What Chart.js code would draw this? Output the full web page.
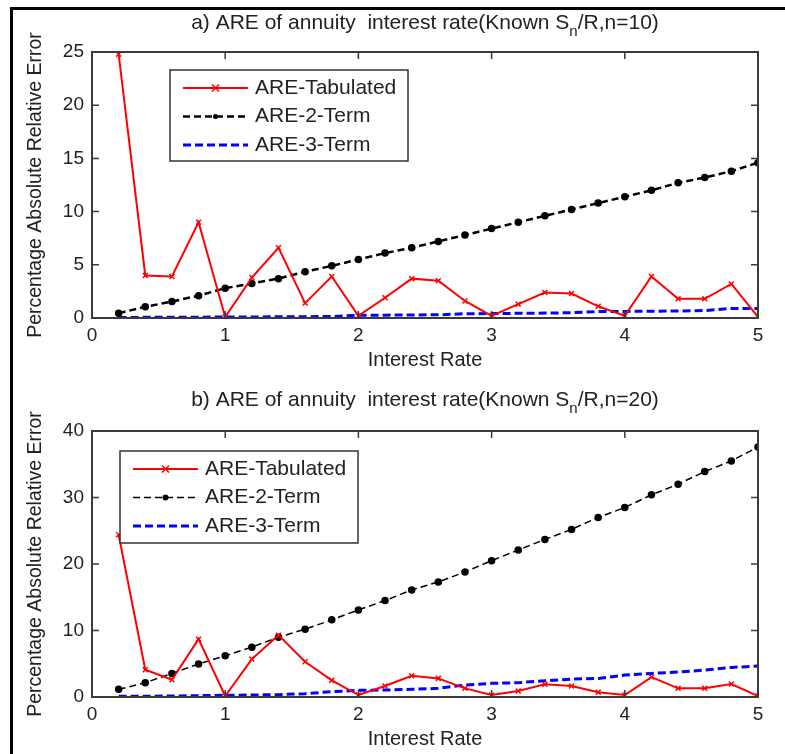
<!DOCTYPE html>
<html>
<head>
<meta charset="utf-8">
<script src="https://cdn.jsdelivr.net/npm/chart.js@4.4.0/dist/chart.umd.min.js"></script>
<style>
  body { margin: 0; background: #fff; width: 785px; height: 754px; overflow: hidden; position: relative; }
  .frame { position: absolute; left: 10px; top: 7px; right: 0; bottom: 0; border-top: 3px solid #000; border-left: 3px solid #000; }
  canvas { position: absolute; left: 0; }
  #chartA { top: 0; }
  #chartB { top: 377px; }
</style>
</head>
<body>
<div class="frame"></div>
<canvas id="chartA" width="785" height="377"></canvas>
<canvas id="chartB" width="785" height="377"></canvas>
<script>
// interest rates (x)
const rates = [0.2, 0.4, 0.6, 0.8, 1.0, 1.2, 1.4, 1.6, 1.8, 2.0, 2.2, 2.4, 2.6,
               2.8, 3.0, 3.2, 3.4, 3.6, 3.8, 4.0, 4.2, 4.4, 4.6, 4.8, 5.0];

// a) n = 10
const tabulatedA = [24.8, 4.0, 3.9, 9.0, 0.1, 3.8, 6.6, 1.4, 3.9, 0.2, 1.9, 3.7, 3.5,
                    1.6, 0.2, 1.3, 2.4, 2.3, 1.1, 0.2, 3.9, 1.8, 1.8, 3.2, 0.1];
const twoTermA = [0.45, 1.05, 1.55, 2.1, 2.8, 3.25, 3.7, 4.35, 4.9, 5.5, 6.1, 6.6, 7.2,
                  7.8, 8.4, 9.0, 9.6, 10.2, 10.8, 11.4, 12.0, 12.7, 13.2, 13.8, 14.6];
const threeTermA = [0.05, 0.06, 0.07, 0.08, 0.09, 0.1, 0.11, 0.12, 0.14, 0.25, 0.27, 0.29, 0.3,
                    0.4, 0.42, 0.44, 0.46, 0.5, 0.6, 0.62, 0.64, 0.66, 0.7, 0.9, 0.9];

// b) n = 20
const tabulatedB = [24.4, 4.1, 2.6, 8.7, 0.15, 5.7, 9.3, 5.3, 2.5, 0.3, 1.65, 3.2, 2.8,
                    1.3, 0.3, 0.9, 1.9, 1.65, 0.7, 0.3, 3.0, 1.3, 1.3, 1.95, 0.15];
const twoTermB = [1.15, 2.15, 3.55, 4.96, 6.2, 7.5, 9.0, 10.2, 11.6, 13.1, 14.5, 16.1, 17.3,
                  18.8, 20.5, 22.1, 23.7, 25.2, 27.0, 28.5, 30.4, 32.0, 33.9, 35.5, 37.6];
const threeTermB = [0.1, 0.1, 0.15, 0.2, 0.25, 0.3, 0.35, 0.5, 0.8, 1.0, 1.05, 1.15, 1.3,
                    1.8, 2.05, 2.15, 2.45, 2.7, 2.8, 3.3, 3.55, 3.75, 4.05, 4.45, 4.65];

const xTicks = [0, 1, 2, 3, 4, 5];
const yTicksA = [0, 5, 10, 15, 20, 25];
const yTicksB = [0, 10, 20, 30, 40];

const seriesNames = ["ARE-Tabulated", "ARE-2-Term", "ARE-3-Term"];
const titleA = ["a) ARE of annuity  interest rate(Known S", "n", "/R,n=10)"];
const titleB = ["b) ARE of annuity  interest rate(Known S", "n", "/R,n=20)"];
const xTitle = "Interest Rate";
const yTitle = "Percentage Absolute Relative Error";

const FONT = '"Liberation Sans", Arial, sans-serif';
const TEXT = "#222";

function pts(ys) {
  return rates.map((x, i) => ({ x: x, y: ys[i] }));
}

function marker(ctx, style, x, y, r, color) {
  ctx.save();
  ctx.setLineDash([]);
  ctx.strokeStyle = color;
  ctx.fillStyle = color;
  if (style === "crossRot") {
    ctx.lineWidth = 1.5;
    ctx.beginPath();
    ctx.moveTo(x - r, y - r); ctx.lineTo(x + r, y + r);
    ctx.moveTo(x - r, y + r); ctx.lineTo(x + r, y - r);
    ctx.stroke();
  } else {
    ctx.beginPath();
    ctx.arc(x, y, r, 0, Math.PI * 2);
    ctx.fill();
  }
  ctx.restore();
}

// MATLAB-like box, inward ticks, title and in-axes legend
const matlabLook = {
  id: "matlabLook",
  afterDatasetsDraw(chart, args, opts) {
    const ctx = chart.ctx;
    const a = chart.chartArea;
    const xs = chart.scales.x, ys = chart.scales.y;
    ctx.save();
    ctx.strokeStyle = "#3a3a3a";
    ctx.lineWidth = 2;
    ctx.strokeRect(a.left, a.top, a.right - a.left, a.bottom - a.top);
    ctx.lineWidth = 1.5;
    ctx.beginPath();
    xs.ticks.forEach(t => {
      const px = xs.getPixelForValue(t.value);
      ctx.moveTo(px, a.bottom); ctx.lineTo(px, a.bottom - 7);
      ctx.moveTo(px, a.top); ctx.lineTo(px, a.top + 7);
    });
    ys.ticks.forEach(t => {
      const py = ys.getPixelForValue(t.value);
      ctx.moveTo(a.left, py); ctx.lineTo(a.left + 7, py);
      ctx.moveTo(a.right, py); ctx.lineTo(a.right - 7, py);
    });
    ctx.stroke();

    // title with subscript
    const parts = opts.title;
    const big = "21px " + FONT, small = "15px " + FONT;
    ctx.font = big;
    const w0 = ctx.measureText(parts[0]).width;
    const w2 = ctx.measureText(parts[2]).width;
    ctx.font = small;
    const w1 = ctx.measureText(parts[1]).width;
    let tx = (a.left + a.right) / 2 - (w0 + w1 + w2) / 2;
    const ty = a.top - opts.titleGap;
    ctx.fillStyle = TEXT;
    ctx.textBaseline = "middle";
    ctx.textAlign = "left";
    ctx.font = big;
    ctx.fillText(parts[0], tx, ty); tx += w0;
    ctx.font = small;
    ctx.fillText(parts[1], tx, ty + 9); tx += w1;
    ctx.font = big;
    ctx.fillText(parts[2], tx, ty);

    // legend
    const L = opts.legend;
    ctx.fillStyle = "#fff";
    ctx.fillRect(L.x, L.y, L.w, L.h);
    ctx.strokeStyle = "#333";
    ctx.lineWidth = 1.5;
    ctx.strokeRect(L.x, L.y, L.w, L.h);
    chart.data.datasets.forEach((ds, i) => {
      const y = L.y + 18 + i * 28.5;
      const x1 = L.x + 13, x2 = L.x + 78;
      ctx.save();
      ctx.strokeStyle = ds.borderColor;
      ctx.lineWidth = ds.borderWidth;
      ctx.setLineDash(ds.borderDash || []);
      ctx.beginPath();
      ctx.moveTo(x1, y); ctx.lineTo(x2, y);
      ctx.stroke();
      ctx.restore();
      if (ds.pointRadius > 0) marker(ctx, ds.pointStyle, (x1 + x2) / 2, y, ds.pointRadius, ds.borderColor);
      ctx.fillStyle = TEXT;
      ctx.font = "21px " + FONT;
      ctx.textBaseline = "middle";
      ctx.fillText(ds.label, L.x + 85, y);
    });
    ctx.restore();
  }
};

function makeChart(id, tab, two, three, yMax, yTicks, title, legend, pad, widths, dot) {
  return new Chart(document.getElementById(id), {
    type: "line",
    data: {
      datasets: [
        { label: seriesNames[0], data: pts(tab), borderColor: "#ff0000", backgroundColor: "#ff0000",
          borderWidth: widths[0], pointStyle: "crossRot", pointRadius: 3.5, pointBorderWidth: 1.5 },
        { label: seriesNames[1], data: pts(two), borderColor: "#000000", backgroundColor: "#000000",
          borderWidth: widths[1], borderDash: [7, 4], pointStyle: "circle", pointRadius: dot },
        { label: seriesNames[2], data: pts(three), borderColor: "#0000ff", backgroundColor: "#0000ff",
          borderWidth: widths[2], borderDash: [8, 4], pointRadius: 0 }
      ]
    },
    options: {
      responsive: false,
      animation: false,
      layout: { padding: pad },
      elements: { line: { tension: 0 } },
      scales: {
        x: {
          type: "linear", min: 0, max: 5,
          afterBuildTicks: s => { s.ticks = xTicks.map(v => ({ value: v })); },
          afterFit: s => { s.height = 54; },
          grid: { display: false, drawTicks: false },
          border: { display: false },
          ticks: { padding: 6, color: TEXT, font: { size: 19, family: FONT } },
          title: { display: true, text: xTitle, color: TEXT, padding: { top: 0, bottom: 0 },
                   font: { size: 20, family: FONT } }
        },
        y: {
          min: 0, max: yMax,
          afterBuildTicks: s => { s.ticks = yTicks.map(v => ({ value: v })); },
          afterFit: s => { s.width = 74; },
          grid: { display: false, drawTicks: false },
          border: { display: false },
          ticks: { padding: 8, color: TEXT, font: { size: 19, family: FONT } },
          title: { display: true, text: yTitle, color: TEXT, padding: { top: 6, bottom: 0 },
                   font: { size: 19.5, family: FONT } }
        }
      },
      plugins: {
        legend: { display: false },
        tooltip: { enabled: false },
        matlabLook: { title: title, titleGap: legend.titleGap, legend: legend }
      }
    },
    plugins: [matlabLook]
  });
}

makeChart("chartA", tabulatedA, twoTermA, threeTermA, 25, yTicksA, titleA,
  { x: 170, y: 70, w: 238, h: 91, titleGap: 29 },
  { left: 18, right: 27, top: 52, bottom: 5 }, [2, 2.5, 3], 2.5);

makeChart("chartB", tabulatedB, twoTermB, threeTermB, 40, yTicksB, titleB,
  { x: 120, y: 74, w: 238, h: 92, titleGap: 31 },
  { left: 18, right: 27, top: 54, bottom: 3 }, [2, 1.5, 3], 3);
</script>
</body>
</html>
